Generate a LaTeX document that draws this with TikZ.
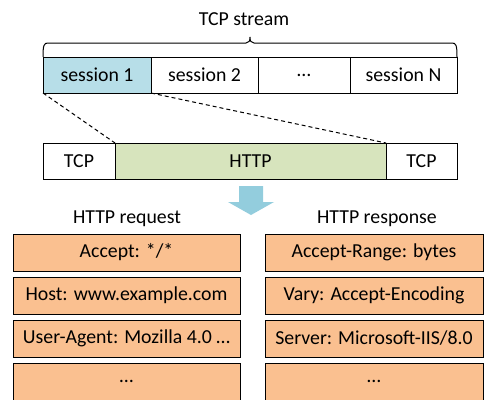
\documentclass[tikz,border=0pt]{standalone}
\usepackage{fontspec}
\setmainfont{Carlito}
\usetikzlibrary{positioning}
\definecolor{sessblue}{RGB}{183,222,232}
\definecolor{httpgreen}{RGB}{215,228,189}
\definecolor{hdrorange}{RGB}{250,192,144}
\definecolor{arrowblue}{RGB}{147,205,221}

\begin{document}
\begin{tikzpicture}[x=1pt,y=-1pt,line width=1pt,
  every node/.style={draw,inner sep=0pt,outer sep=0pt,minimum height=36pt,font=\fontsize{19.8}{24}\selectfont},
  lbl/.style={draw=none,minimum height=0pt,anchor=base},
  hdr/.style={fill=hdrorange,minimum height=37pt}]
  \useasboundingbox (0,0) rectangle (490,399);
  % TCP stream split into sessions
  \node (S1) at (97,75) [fill=sessblue,minimum width=108pt] {session 1};
  \node (S2) at (204.5,75) [minimum width=107pt] {session 2};
  \node (S3) at (304,75) [minimum width=92pt] {…};
  \node (SN) at (403.5,75) [minimum width=107pt] {session N};
  \draw (S1.north west) .. controls (43,45) and (44,43) .. (48,43) -- (246,43)
    .. controls (249,43) and (250,41) .. (250,37) .. controls (250,41) and (251,43) .. (254,43)
    -- (452,43) .. controls (456,43) and (457,45) .. (SN.north east);
  \node (stream) at (244,25) [lbl] {TCP stream};
  % one session
  \node (T1) at (79,161) [minimum width=72pt] {TCP};
  \node (H) at (250.5,161) [fill=httpgreen,minimum width=271pt] {HTTP};
  \node (T2) at (421.5,161) [minimum width=71pt] {TCP};
  \draw[dash pattern=on 4pt off 3pt] (S1.south west)--(H.north west) (S1.south east)--(H.north east);
  \fill[arrowblue] (239,186)--(263,186)--(263,202)--(274,202)--(251,215)--(228,202)--(239,202)--cycle;
  % headers
  \node (req) at (127,223) [lbl] {HTTP request};
  \node (res) at (377,223) [lbl] {HTTP response};
  \node (q1) at (126.5,252.5) [hdr,minimum width=227pt] {Accept: */*};
  \node (q2) at (126.5,295.5) [hdr,minimum width=227pt] {Host: www.example.com};
  \node (q3) at (126.5,338.5) [hdr,minimum width=227pt] {User-Agent: Mozilla 4.0 …};
  \node (q4) at (126.5,381.5) [hdr,minimum width=227pt] {…};
  \node (r1) at (374,252.5) [hdr,minimum width=218pt] {Accept-Range: bytes};
  \node (r2) at (374,295.5) [hdr,minimum width=218pt] {Vary: Accept-Encoding};
  \node (r3) at (374,338.5) [hdr,minimum width=218pt] {Server: Microsoft-IIS/8.0};
  \node (r4) at (374,381.5) [hdr,minimum width=218pt] {…};
\end{tikzpicture}
\end{document}
